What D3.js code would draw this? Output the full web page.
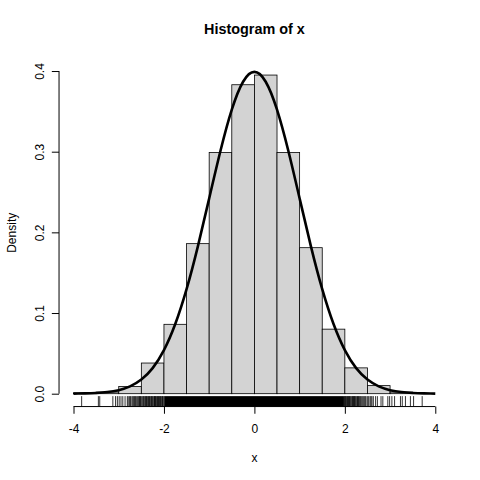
<!DOCTYPE html>
<html>
<head>
<meta charset="utf-8">
<script src="https://cdn.jsdelivr.net/npm/d3@7"></script>
<style>
    body { margin: 0; background: #fff; }
    text { font-family: "Liberation Sans", Arial, Helvetica, sans-serif; fill: #000; }
</style>
</head>
<body>
<div class="mainBody"></div>
<script>
// histogram bins (left edges, width 0.5) and their densities
var binStarts = [-4, -3.5, -3, -2.5, -2, -1.5, -1, -0.5, 0, 0.5, 1, 1.5, 2, 2.5, 3, 3.5];
var binWidth = 0.5;
var densities = [0.001, 0.002, 0.009, 0.038, 0.086, 0.186, 0.299, 0.383, 0.395, 0.299, 0.181, 0.080, 0.032, 0.010, 0.002, 0.000];

// density curve
var curveX = [-4, -3.75, -3.5, -3.25, -3, -2.75, -2.5, -2.25, -2, -1.75, -1.5, -1.25, -1, -0.75, -0.5, -0.25, 0,
              0.25, 0.5, 0.75, 1, 1.25, 1.5, 1.75, 2, 2.25, 2.5, 2.75, 3, 3.25, 3.5, 3.75, 4];
var curveY = [0.0001, 0.0004, 0.0009, 0.002, 0.0044, 0.0091, 0.0175, 0.0317, 0.054, 0.0863, 0.1295, 0.1826, 0.242, 0.3011, 0.3521, 0.3867, 0.3989,
              0.3867, 0.3521, 0.3011, 0.242, 0.1826, 0.1295, 0.0863, 0.054, 0.0317, 0.0175, 0.0091, 0.0044, 0.002, 0.0009, 0.0004, 0.0001];

// rug: the solid core and the single ticks in the tails
var rugCore = [-1.98, 1.98];
var rugTicks = [-3.82, -3.45, -3.42, -3.13, -3.07, -3.03, -2.99, -2.95, -2.91, -2.86, -2.81, -2.79, -2.76, -2.74,
                -2.71, -2.69, -2.67, -2.65, -2.63, -2.61, -2.58, -2.57, -2.55, -2.54, -2.52, -2.51, -2.49, -2.47,
                -2.45, -2.44, -2.42, -2.41, -2.39, -2.38, -2.37, -2.35, -2.34, -2.32, -2.31, -2.29, -2.28, -2.27,
                -2.25, -2.24, -2.22, -2.21, -2.2, -2.19, -2.18, -2.16, -2.15, -2.14, -2.12, -2.11, -2.1, -2.08,
                -2.07, -2.06, -2.04, -2.03, -2.02, -2.0, -1.99,
                1.99, 2.0, 2.01, 2.02, 2.04, 2.05, 2.06, 2.08, 2.09, 2.1, 2.11, 2.13, 2.14, 2.16, 2.17, 2.19,
                2.2, 2.21, 2.22, 2.24, 2.25, 2.27, 2.28, 2.3, 2.31, 2.33, 2.34, 2.36, 2.38, 2.4, 2.42, 2.44,
                2.46, 2.49, 2.51, 2.53, 2.56, 2.58, 2.6, 2.63, 2.68, 2.72, 2.8, 2.84, 2.95, 2.99, 3.04, 3.1,
                3.23, 3.27, 3.34, 3.45, 3.52, 3.71];

var xTicks = [-4, -2, 0, 2, 4];
var yTicks = [0, 0.1, 0.2, 0.3, 0.4];
var yTickLabels = ["0.0", "0.1", "0.2", "0.3", "0.4"];

var width = 480, height = 480;
var plot = { left: 59.04, right: 449.76, top: 59.04, bottom: 406.56 };

function expand(lo, hi) {
    let pad = (hi - lo) * 0.04;
    return [lo - pad, hi + pad];
}

var x = d3.scaleLinear().domain(expand(-4, 4)).range([plot.left, plot.right]);
var y = d3.scaleLinear().domain(expand(0, 0.3989)).range([plot.bottom, plot.top]);

function drawChart() {
    let svg = d3.select("div.mainBody").append("svg")
        .attr("width", width)
        .attr("height", height);

    // bars
    svg.append("g").selectAll("rect")
        .data(densities)
        .enter().append("rect")
        .attr("x", function(d, i) { return x(binStarts[i]); })
        .attr("width", function(d, i) { return x(binStarts[i] + binWidth) - x(binStarts[i]); })
        .attr("y", function(d) { return y(d); })
        .attr("height", function(d) { return y(0) - y(d); })
        .attr("fill", "#d3d3d3")
        .attr("stroke", "#000")
        .attr("stroke-width", 0.8);

    // density line
    let line = d3.line()
        .x(function(d, i) { return x(curveX[i]); })
        .y(function(d) { return y(d); })
        .curve(d3.curveNatural);
    svg.append("path")
        .datum(curveY)
        .attr("d", line)
        .attr("fill", "none")
        .attr("stroke", "#000")
        .attr("stroke-width", 2.6);

    // rug
    let rugTop = plot.bottom - 0.03 * (plot.bottom - plot.top);
    svg.append("rect")
        .attr("x", x(rugCore[0]))
        .attr("width", x(rugCore[1]) - x(rugCore[0]))
        .attr("y", rugTop)
        .attr("height", plot.bottom - rugTop)
        .attr("fill", "#000");
    svg.append("g").selectAll("line")
        .data(rugTicks)
        .enter().append("line")
        .attr("x1", function(d) { return x(d); })
        .attr("x2", function(d) { return x(d); })
        .attr("y1", rugTop)
        .attr("y2", plot.bottom)
        .attr("stroke", "#000")
        .attr("stroke-width", 0.8);

    // x axis
    let xAxis = svg.append("g")
        .attr("transform", `translate(0,${plot.bottom})`)
        .call(d3.axisBottom(x).tickValues(xTicks).tickSizeOuter(0).tickSizeInner(7.2)
            .tickFormat(function(d) { return d < 0 ? "-" + Math.abs(d) : d; }));
    xAxis.select(".domain").remove();
    xAxis.append("line")
        .attr("x1", x(xTicks[0]))
        .attr("x2", x(xTicks[xTicks.length - 1]))
        .attr("stroke", "#000");
    xAxis.selectAll("text")
        .attr("font-size", 12)
        .attr("dy", null)
        .attr("y", 26.5);

    // y axis
    let yAxis = svg.append("g")
        .attr("transform", `translate(${plot.left},0)`)
        .call(d3.axisLeft(y).tickValues(yTicks).tickSizeOuter(0).tickSizeInner(7.2)
            .tickFormat(function(d, i) { return yTickLabels[i]; }));
    yAxis.select(".domain").remove();
    yAxis.append("line")
        .attr("y1", y(yTicks[0]))
        .attr("y2", y(yTicks[yTicks.length - 1]))
        .attr("stroke", "#000");
    yAxis.selectAll(".tick text")
        .attr("font-size", 12)
        .attr("x", null)
        .attr("dy", null)
        .attr("text-anchor", "middle")
        .attr("transform", "translate(-15,0) rotate(-90)");

    // titles
    svg.append("text")
        .attr("x", (plot.left + plot.right) / 2)
        .attr("y", 34)
        .attr("text-anchor", "middle")
        .attr("font-size", 14.4)
        .attr("font-weight", "bold")
        .text("Histogram of x");
    svg.append("text")
        .attr("x", (plot.left + plot.right) / 2)
        .attr("y", 462)
        .attr("text-anchor", "middle")
        .attr("font-size", 12)
        .text("x");
    svg.append("text")
        .attr("transform", `translate(16,${(plot.top + plot.bottom) / 2}) rotate(-90)`)
        .attr("text-anchor", "middle")
        .attr("font-size", 12)
        .text("Density");
}

drawChart();
</script>
</body>
</html>
